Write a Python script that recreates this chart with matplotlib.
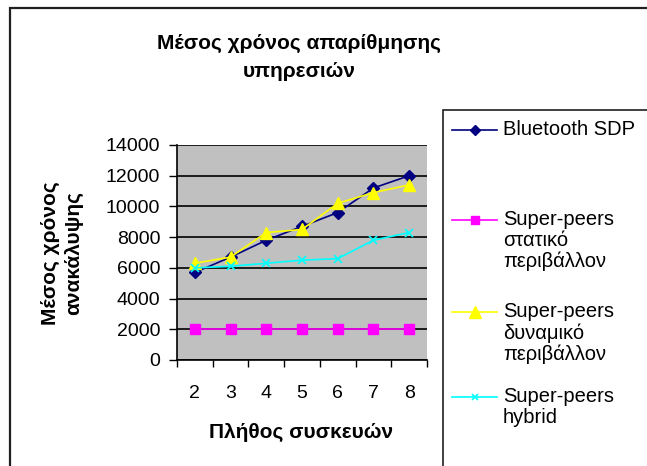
import matplotlib
matplotlib.use('Agg')
import matplotlib.pyplot as plt
from matplotlib.lines import Line2D
from matplotlib.patches import Rectangle

plt.rcParams['font.family'] = ['Liberation Sans', 'DejaVu Sans']

# data
devices = [2, 3, 4, 5, 6, 7, 8]
bluetooth_sdp = [5700, 6700, 7800, 8700, 9600, 11200, 12000]
sp_static = [2000, 2000, 2000, 2000, 2000, 2000, 2000]
sp_dynamic = [6300, 6700, 8300, 8500, 10200, 10900, 11400]
sp_hybrid = [6000, 6100, 6300, 6500, 6600, 7800, 8300]

series_labels = ['Bluetooth SDP',
                 'Super-peers\nστατικό\nπεριβάλλον',
                 'Super-peers\nδυναμικό\nπεριβάλλον',
                 'Super-peers\nhybrid']
y_ticks = [0, 2000, 4000, 6000, 8000, 10000, 12000, 14000]

W, H = 647, 466
fig = plt.figure(figsize=(W / 100, H / 100), dpi=100)

# outer chart frame (runs off right/bottom edge like the screenshot)
fig.patches.append(Rectangle((10 / W, -0.1), 1.2, 1 - 8 / H + 0.1,
                             transform=fig.transFigure, fill=False,
                             edgecolor='#202020', linewidth=1.6))

ax = fig.add_axes([177 / W, 1 - 360 / H, 250 / W, 215 / H])
ax.set_facecolor('#C0C0C0')

styles = [
    dict(color='#000080', marker='D', markersize=6),
    dict(color='#FF00FF', marker='s', markersize=7),
    dict(color='#FFFF00', marker='^', markersize=9),
    dict(color='#00FFFF', marker='x', markersize=6, markeredgewidth=1.2),
]
series = [bluetooth_sdp, sp_static, sp_dynamic, sp_hybrid]
for vals, st in zip(series, styles):
    ax.plot(devices, vals, linewidth=1.2, **st)

ax.set_xlim(1.5, 8.5)
ax.set_ylim(0, 14000)
ax.set_yticks(y_ticks)
ax.set_yticklabels([str(v) for v in y_ticks])
ax.set_xticks(devices)
ax.set_xticks([d - 0.5 for d in devices] + [8.5], minor=True)
ax.tick_params(axis='x', which='major', length=0, pad=18, labelsize=14)
ax.tick_params(axis='x', which='minor', length=5, direction='out', width=1)
ax.tick_params(axis='y', length=6, direction='out', width=1, pad=6, labelsize=14)
ax.grid(axis='y', color='black', linewidth=1.2)
ax.set_axisbelow(True)
for s in ['top', 'right']:
    ax.spines[s].set_visible(False)
for s in ['left', 'bottom']:
    ax.spines[s].set_linewidth(1.2)

fig.text(299 / W, 1 - 57 / H, 'Μέσος χρόνος απαρίθμησης\nυπηρεσιών',
         ha='center', va='center', fontsize=15, fontweight='bold',
         linespacing=1.6)
fig.text(301 / W, 1 - 432 / H, 'Πλήθος συσκευών', ha='center', va='center',
         fontsize=15, fontweight='bold')
fig.text(62 / W, 1 - 253 / H, 'Μέσος χρόνος\nανακάλυψης', ha='center',
         va='center', rotation=90, fontsize=15, fontweight='bold',
         linespacing=1.25)

# legend box, drawn by hand so handles sit on the first label line
fig.patches.append(Rectangle((443 / W, -0.1), 0.5, 1 - 110 / H + 0.1,
                             transform=fig.transFigure, fill=False,
                             edgecolor='#202020', linewidth=1.2))
legend_rows = [130, 220, 312, 397]
for lab, st, yy in zip(series_labels, styles, legend_rows):
    yf = 1 - yy / H
    kw = dict(st)
    kw['markersize'] = st['markersize'] - 1
    fig.lines.append(Line2D([452 / W, 474.5 / W, 497 / W], [yf, yf, yf],
                            transform=fig.transFigure, linewidth=1.2,
                            markevery=[1], **kw))
    fig.text(503 / W, yf + 10 / H, lab, ha='left', va='top', fontsize=14.5,
             linespacing=1.13)

fig.savefig('out.png', dpi=100, facecolor='white')
